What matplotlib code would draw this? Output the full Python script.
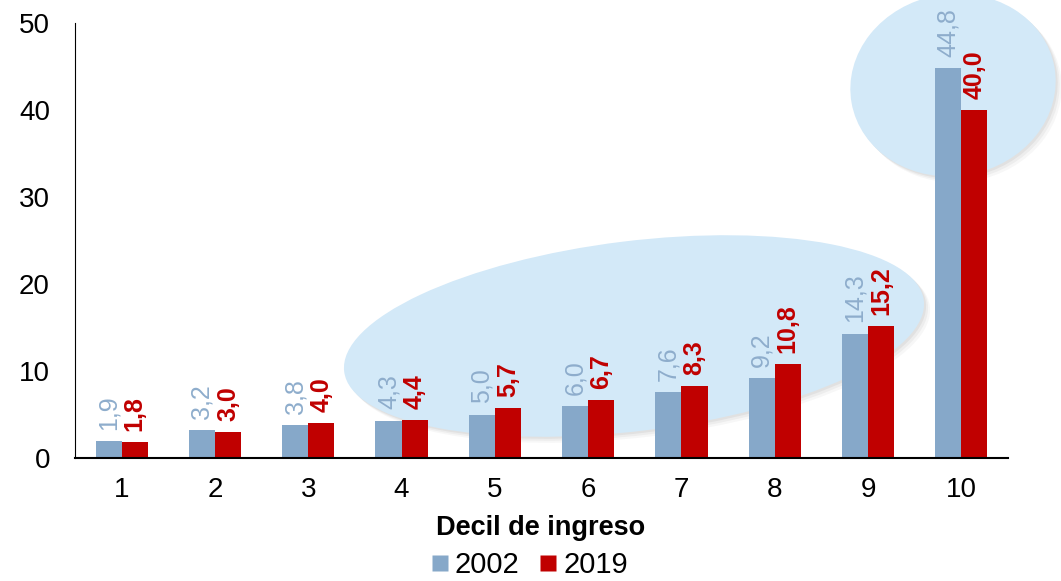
import numpy as np
import matplotlib
matplotlib.use("Agg")
import matplotlib.pyplot as plt
from matplotlib.patches import Ellipse
from matplotlib.transforms import IdentityTransform
from matplotlib.lines import Line2D

plt.rcParams['font.family'] = ['Liberation Sans', 'DejaVu Sans']

# =====================================================
# DATA
# =====================================================

deciles = ['1', '2', '3', '4', '5', '6', '7', '8', '9', '10']
share_2002 = [1.9, 3.2, 3.8, 4.3, 5.0, 6.0, 7.6, 9.2, 14.3, 44.8]
share_2019 = [1.8, 3.0, 4.0, 4.4, 5.7, 6.7, 8.3, 10.8, 15.2, 40.0]
years = ['2002', '2019']

color_2002 = '#86a8c9'
color_2019 = '#c00000'
label_2002 = '#8eadcc'

# =====================================================
# FIGURE
# =====================================================

W, H = 1061, 581
fig = plt.figure(figsize=(W / 100, H / 100), dpi=100)
ax = fig.add_axes([75 / W, 123 / H, 933 / W, 435 / H])

x = np.arange(len(deciles))
bw = 0.28

ax.set_xlim(-0.5, len(deciles) - 0.5)
ax.set_ylim(0, 50)

# =====================================================
# HIGHLIGHT ELLIPSES (pixel coords)
# =====================================================

def ellipse(cx, cy, w, h, ang):
    # shadow
    for i, a in enumerate([0.06, 0.08, 0.10]):
        off = 6 - i * 2
        fig.patches.append(Ellipse((cx + off, H - cy - off), w, h, angle=ang,
                                   transform=IdentityTransform(),
                                   facecolor='#7a7a7a', alpha=a,
                                   edgecolor='none', zorder=0))
    fig.patches.append(Ellipse((cx, H - cy), w, h, angle=ang,
                               transform=IdentityTransform(),
                               facecolor='#d3e9f8', edgecolor='none',
                               zorder=0.5))

ellipse(634, 336, 584, 190, 7)
ellipse(953, 85, 206, 182, 10)
ax.set_zorder(1)
ax.patch.set_alpha(0)

# =====================================================
# BARS
# =====================================================

b1 = ax.bar(x - bw / 2, share_2002, bw, color=color_2002, zorder=2)
b2 = ax.bar(x + bw / 2, share_2019, bw, color=color_2019, zorder=2)

for xi, v in zip(x, share_2002):
    ax.annotate(f"{v:.1f}".replace('.', ','), (xi - bw / 2, v),
                xytext=(0, 8), textcoords='offset points',
                rotation=90, ha='center', va='bottom',
                fontsize=18, color=label_2002, annotation_clip=False)

for xi, v in zip(x, share_2019):
    ax.annotate(f"{v:.1f}".replace('.', ','), (xi + bw / 2, v),
                xytext=(0, 8), textcoords='offset points',
                rotation=90, ha='center', va='bottom',
                fontsize=18, fontweight='bold', color=color_2019,
                annotation_clip=False)

# =====================================================
# AXES STYLE
# =====================================================

ax.spines['top'].set_visible(False)
ax.spines['right'].set_visible(False)
ax.spines['left'].set_color('black')
ax.spines['bottom'].set_color('black')
ax.spines['bottom'].set_linewidth(1.5)

ax.set_xticks(x)
ax.set_xticklabels(deciles)
ax.set_yticks([0, 10, 20, 30, 40, 50])
ax.tick_params(axis='both', length=0, labelsize=20)
ax.tick_params(axis='x', pad=14)
ax.tick_params(axis='y', pad=18)

fig.text(541 / W, 1 - 528 / H, 'Decil de ingreso', ha='center', va='center',
         fontsize=19.5, fontweight='bold')

handles = [
    Line2D([], [], marker='s', linestyle='none', markersize=12,
           markerfacecolor=color_2002, markeredgecolor='none'),
    Line2D([], [], marker='s', linestyle='none', markersize=12,
           markerfacecolor=color_2019, markeredgecolor='none'),
]
fig.legend(handles, years, loc='center', bbox_to_anchor=(528 / W, 1 - 565 / H),
           ncol=2, frameon=False, fontsize=21, handletextpad=0.1,
           columnspacing=0.6, handlelength=0.8)

fig.savefig("out.png", dpi=100)
